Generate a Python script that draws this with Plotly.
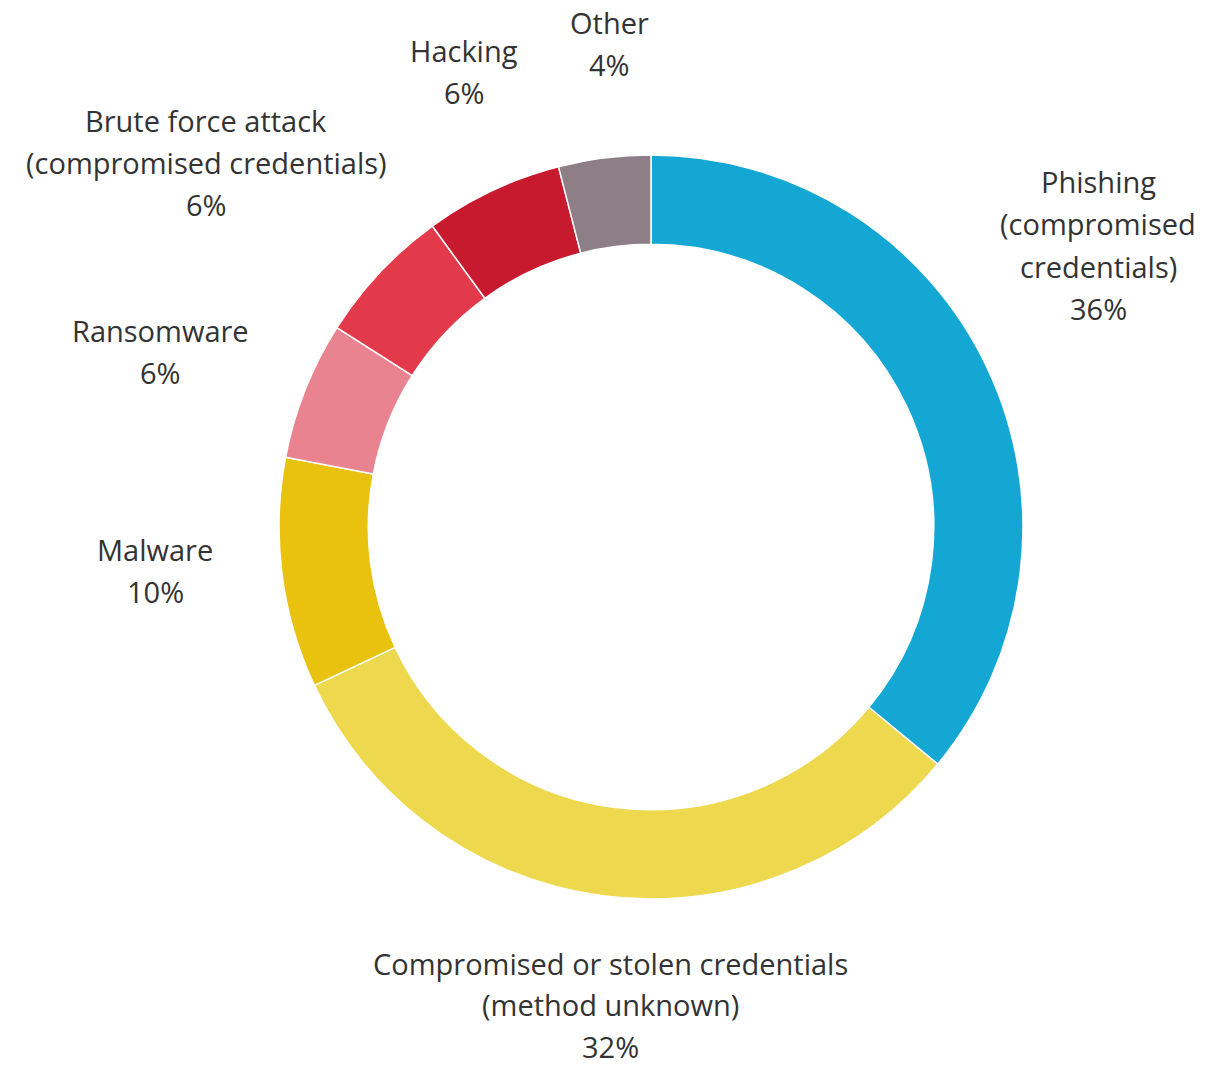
import plotly.graph_objects as go

categories = [
    "Phishing (compromised credentials)",
    "Compromised or stolen credentials (method unknown)",
    "Malware",
    "Ransomware",
    "Brute force attack (compromised credentials)",
    "Hacking",
    "Other",
]
values = [36, 32, 10, 6, 6, 6, 4]
colors = ["#14A7D3", "#EED84D", "#E9C20F", "#E9838F", "#E23A4B", "#C81A2F", "#8E7F86"]

# label lines (text) for each category
label_lines = [
    ["Phishing", "(compromised", "credentials)"],
    ["Compromised or stolen credentials", "(method unknown)"],
    ["Malware"],
    ["Ransomware"],
    ["Brute force attack", "(compromised credentials)"],
    ["Hacking"],
    ["Other"],
]
# label anchor (pixel centre x, first-line y, line spacing)
label_pos = [
    (1098, 181, 42.5),
    (610, 963, 41.5),
    (155, 549, 42.5),
    (160, 330, 42.5),
    (206, 120, 42.5),
    (464, 50, 42.5),
    (609, 22, 42.5),
]

W, H = 1207, 1068
cx, cy, r = 651, 527, 372

fig = go.Figure(go.Pie(
    labels=categories,
    values=values,
    marker=dict(colors=colors, line=dict(color="white", width=1.5)),
    hole=0.76,
    sort=False,
    direction="clockwise",
    rotation=0,
    textinfo="none",
    hoverinfo="label+percent",
    showlegend=False,
    domain=dict(x=[(cx - r) / W, (cx + r) / W],
                y=[(H - cy - r) / H, (H - cy + r) / H]),
))

annotations = []
for lines, v, (x, y0, step) in zip(label_lines, values, label_pos):
    all_lines = lines + [f"{v}%"]
    for i, t in enumerate(all_lines):
        yy = y0 + i * step
        annotations.append(dict(
            x=x / W, y=1 - yy / H, xref="paper", yref="paper",
            text=t, showarrow=False, xanchor="center", yanchor="middle",
            borderpad=0,
            font=dict(family="Open Sans", size=29, color="#333333"),
        ))

fig.update_layout(
    width=W, height=H,
    margin=dict(l=0, r=0, t=0, b=0),
    paper_bgcolor="white",
    plot_bgcolor="white",
    annotations=annotations,
)

fig.write_html("out.html")
